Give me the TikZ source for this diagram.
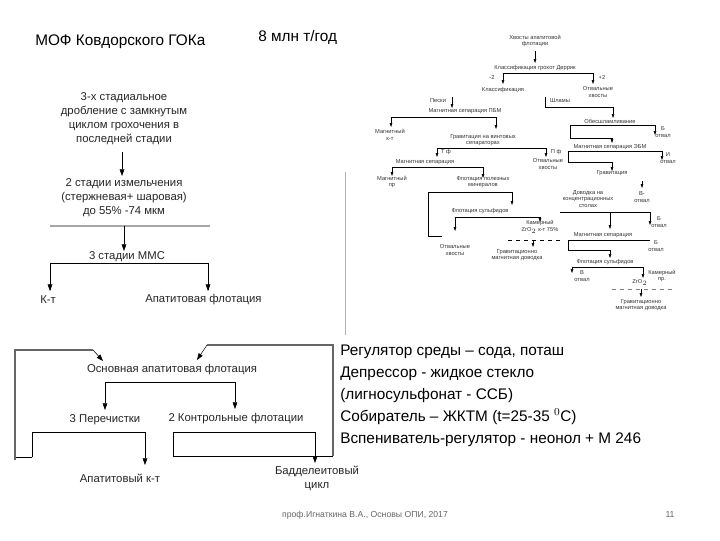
\documentclass[tikz,border=0pt]{standalone}
\usepackage{fontspec}
\setmainfont{Liberation Sans}
\usetikzlibrary{arrows.meta}
\begin{document}
\begin{tikzpicture}[x=0.75pt,y=-0.75pt,
 ar/.style={-{Triangle[length=5pt,width=3.5pt]}},
 sa/.style={-{Triangle[length=3pt,width=2pt]},line width=0.4pt},
 ln/.style={line width=0.4pt},
 t/.style={font=\fontsize{8.5}{10.5}\selectfont,align=center,inner sep=0pt,text=black!85},
 s/.style={font=\fontsize{4.3}{5}\selectfont,align=center,inner sep=0pt,text=black!80},
 big/.style={font=\fontsize{11.5}{13}\selectfont,inner sep=0pt}]
\useasboundingbox (0,0) rectangle (720,540);
\fill[white] (0,0) rectangle (720,540);
% titles
\node[big,anchor=west] (title) at (35,42) {МОФ Ковдорского ГОКа};
\node[big,anchor=west] (rate) at (258,37) {8 млн т/год};
% left diagram
\node[t] (crush) at (124,119) {3-х стадиальное\\дробление с замкнутым\\циклом грохочения в\\последней стадии};
\node[t] (grind) at (124,198) {2 стадии измельчения\\(стержневая+ шаровая)\\до 55\% -74 мкм};
\node[t] (mms) at (127,257) {3 стадии ММС};
\node[t,anchor=west] (kt) at (40,300) {К-т};
\node[t,anchor=west] (apf) at (145,300) {Апатитовая флотация};
\draw[ar] (122,152) -- (122,176);
\draw[gray!70,line width=1.2pt] (50,226) -- (210,226);
\draw[ar] (124,226) -- (124,251);
\draw (50,290) -- (50,263) -- (208,263) -- (208,290);
\draw[ar] (50,263) -- (50,291);
\draw[ar] (208,263) -- (208,291);
% bottom-left diagram
\node[t] (osn) at (172,370) {Основная апатитовая флотация};
\node[t] (per) at (105,420) {3 Перечистки};
\node[t] (kon) at (236,419) {2 Контрольные флотации};
\node[t] (apk) at (120,478) {Апатитовый к-т};
\node[t] (bad) at (317,478) {Бадделеитовый\\цикл};
\draw (105,382) -- (235,382);
\draw[ar] (105,382) -- (105,410);
\draw[ar] (235,382) -- (235,409);
\draw (32,457) -- (32,432) -- (145,432);
\draw[ar] (145,432) -- (145,465);
\draw (32,457) -- (15,457);
\draw[line width=0.8pt,gray!80!black] (15,460) -- (15,350) -- (93,350);
\draw[ar] (93,350) -- (103,361);
\draw (173,432) -- (315,432);
\draw[ar] (315,432) -- (315,463);
\draw (173,432) -- (173,456) -- (333,456);
\draw[line width=0.8pt,gray!80!black] (333,456) -- (333,345) -- (207,345);
\draw[ar] (207,345) -- (197,360);
% reagents
\node[big,anchor=west,align=left,font=\fontsize{11.5}{16.5}\selectfont] (reag) at (340,396) {Регулятор среды – сода, поташ\\Депрессор - жидкое стекло\\(лигносульфонат - ССБ)\\Собиратель – ЖКТМ (t=25-35 $^0$С)\\Вспениватель-регулятор - неонол + М 246};
\draw[gray!60,line width=0.6pt] (345,172) -- (345,335);
% footer
\node[font=\fontsize{6.5}{8}\selectfont,text=black!60] (foot) at (365,515) {проф.Игнаткина В.А., Основы ОПИ, 2017};
\node[font=\fontsize{6.5}{8}\selectfont,text=black!60] (pg) at (670,515) {11};
% top-right flowsheet
\node[s] (h) at (535,41) {Хвосты апатитовой\\флотации};
\draw[sa] (535,51) -- (535,63);
\node[s] (kg) at (535,68) {Классификация грохот Деррик};
\draw[ln] (503,73) -- (593,73);
\draw[sa] (503,73) -- (503,84); \draw[sa] (593,73) -- (593,84);
\node[s] at (492,77) {-2}; \node[s] at (602,77) {+2};
\node[s] (kl) at (503,90) {Классификация};
\node[s] (oh1) at (598,92) {Отвальные\\хвосты};
\node[s] at (438,101) {Пески}; \draw[sa] (452,97) -- (452,108);
\node[s] at (560,101) {Шламы};
\draw[ln] (545,97) -- (545,107) -- (613,107); \draw[sa] (613,107) -- (613,118);
\node[s] (mpbm) at (465,111) {Магнитная сепарация ПБМ};
\draw[ln] (391,117) -- (496,117);
\draw[sa] (391,117) -- (391,127); \draw[sa] (496,117) -- (496,129);
\node[s] at (390,135) {Магнитный\\к-т};
\node[s] at (483,140) {Гравитация на винтовых\\сепараторах};
\node[s] at (610,121) {Обесшламливание};
\draw[ln] (570,125) -- (655,125); \draw[sa] (655,125) -- (655,135);
\node[s] at (663,132) {Б\\отвал};
\draw[ln] (570,125) -- (570,138) -- (612,138); \draw[sa] (612,138) -- (612,143);
\node[s] at (610,147) {Магнитная сепарация ЭБМ};
\draw[ln] (568,151) -- (662,151); \draw[sa] (662,151) -- (662,160);
\node[s] at (668,158) {И\\отвал};
\draw[ln] (568,151) -- (568,162) -- (612,162); \draw[sa] (612,162) -- (612,171);
\draw[ln] (437,148) -- (546,148);
\draw[sa] (437,148) -- (437,157); \draw[sa] (546,148) -- (546,157);
\node[s] at (446,152) {Т ф}; \node[s] at (556,152) {П ф};
\node[s] at (425,162) {Магнитная сепарация};
\node[s] at (548,164) {Отвальные\\хвосты};
\draw[ln] (392,167) -- (483,167);
\draw[sa] (392,167) -- (392,176); \draw[sa] (483,167) -- (483,178);
\node[s] at (392,182) {Магнитный\\пр};
\node[s] at (483,182) {Флотация полезных\\минералов};
\node[s] at (612,173) {Гравитация};
\draw[sa] (642,181) -- (642,188);
\node[s] at (642,197) {В-\\отвал};
\draw[ln] (428,192) -- (512,192);
\draw[sa] (512,192) -- (512,205);
\draw[ln] (428,192) -- (428,236) -- (442,236);
\draw[sa] (455,217) -- (455,231);
\node[s] at (455,250) {Отвальные\\хвосты};
\node[s] at (480,211) {Флотация сульфидов};
\draw[ln] (455,217) -- (540,217);
\draw[sa] (540,217) -- (540,222);
\node[s] at (588,199) {Доводка на\\концентрационных\\столах};
\draw[ln] (560,212) -- (650,212);
\draw[sa] (610,212) -- (610,229); \draw[sa] (650,212) -- (650,225);
\node[s] at (659,222) {Б\\отвал};
\node[s] at (540,227) {Камерный\\ZrO$_2$ к-т 75\%};
\draw[ln,dashed] (508,240) -- (560,240); \draw[sa] (533,240) -- (533,247);
\node[s] at (517,255) {Гравитационно\\магнитная доводка};
\node[s] at (603,235) {Магнитная сепарация};
\draw[ln] (568,240) -- (650,240);
\node[s] at (656,246) {Б\\отвал};
\draw[ln] (568,240) -- (568,250) -- (610,250); \draw[sa] (610,250) -- (610,258);
\node[s] at (605,262) {Флотация сульфидов};
\draw[ln] (572,267) -- (643,267);
\draw[sa] (572,267) -- (572,273); \draw[sa] (643,267) -- (643,278);
\node[s] at (582,276) {В\\отвал};
\node[s] at (662,276) {Камерный\\пр.};
\node[s] at (640,282) {ZrO$_2$};
\draw[ln,dashed,gray] (612,289) -- (672,289); \draw[sa] (641,289) -- (641,297);
\node[s] at (641,305) {Гравитационно\\магнитная доводка};
\end{tikzpicture}
\end{document}
